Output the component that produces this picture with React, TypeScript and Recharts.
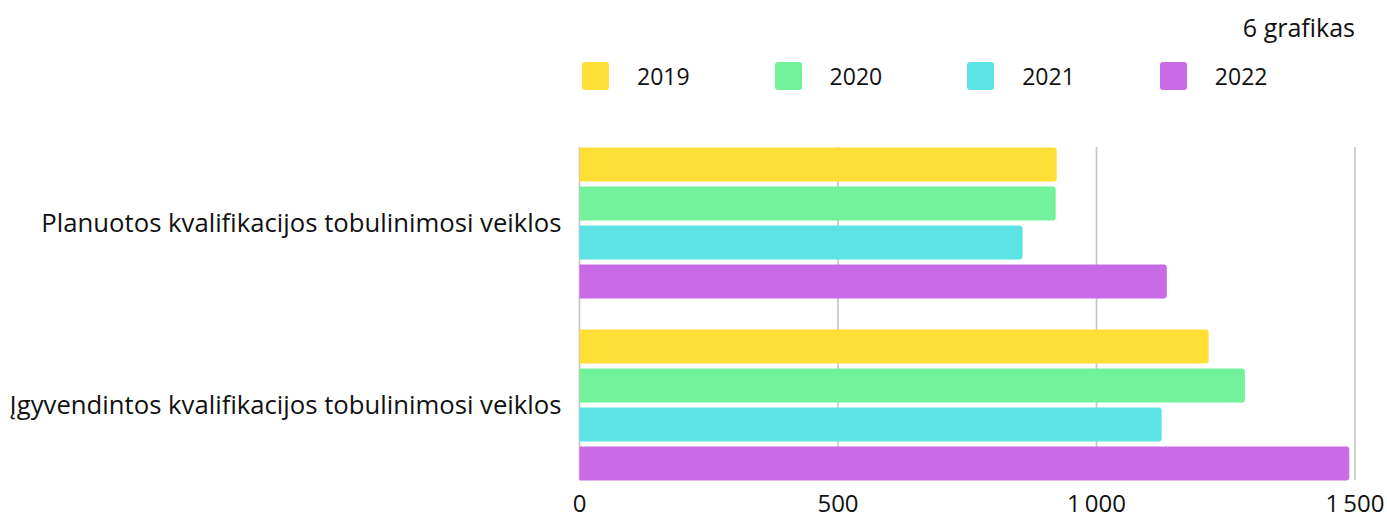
import React from "react";
import { BarChart, Bar, XAxis, YAxis, CartesianGrid } from "recharts";

const categories = [
  "Planuotos kvalifikacijos tobulinimosi veiklos",
  "Įgyvendintos kvalifikacijos tobulinimosi veiklos",
];
const years = ["2019", "2020", "2021", "2022"];
const values2019 = [923, 1217];
const values2020 = [921, 1287];
const values2021 = [857, 1126];
const values2022 = [1136, 1489];
const xTicks = [0, 500, 1000, 1500];
const colors = ["#FFDE35", "#72F29B", "#5DE2E5", "#C96BE6"];
const subtitle = "6 grafikas";

const series = [values2019, values2020, values2021, values2022];
const data = categories.map((c, i) => {
  const row: Record<string, string | number> = { name: c };
  years.forEach((y, k) => {
    row[y] = series[k][i];
  });
  return row;
});

const FONT = "'Open Sans', sans-serif";
const GAP = 15.5;

const GridLine = (props: any) => {
  const { x1, x2, y1, y2 } = props;
  return (
    <line
      x1={x1}
      x2={x2}
      y1={y1 + GAP}
      y2={y2 - GAP}
      stroke="#c4c4c4"
      strokeWidth={1.6}
    />
  );
};

const fmt = (v: number) =>
  v >= 1000 ? `${Math.floor(v / 1000)}\u2009${String(v % 1000).padStart(3, "0")}` : String(v);

export default function App() {
  return (
    <div style={{ position: "absolute", left: 0, top: 0, width: 1387, height: 514, background: "#fff" }}>
      <div
        style={{
          position: "absolute",
          right: 32,
          top: 12,
          fontFamily: FONT,
          fontSize: 25,
          color: "#111",
          lineHeight: "30px",
        }}
      >
        {subtitle}
      </div>
      <div
        style={{
          position: "absolute",
          left: 582,
          top: 62,
          display: "flex",
          alignItems: "center",
          fontFamily: FONT,
          fontSize: 23,
          color: "#111",
          height: 28,
        }}
      >
        {years.map((y, i) => (
          <div key={y} style={{ display: "flex", alignItems: "center", marginRight: 85 }}>
            <div
              style={{
                width: 27,
                height: 28,
                borderRadius: 3,
                background: colors[i],
                marginRight: 28,
              }}
            />
            <span>{y}</span>
          </div>
        ))}
      </div>
      <BarChart
        width={1387}
        height={514}
        data={data}
        layout="vertical"
        margin={{ top: 131.5, right: 32, bottom: 0, left: 0 }}
        barCategoryGap={GAP}
        barGap={5}
        style={{ position: "absolute", left: 0, top: 0 }}
      >
        <CartesianGrid horizontal={false} vertical={GridLine as any} />
        <XAxis
          type="number"
          domain={[0, 1500]}
          ticks={xTicks}
          tickFormatter={fmt}
          axisLine={false}
          tickLine={false}
          height={18.5}
          tickSize={0}
          tickMargin={-1}
          interval={0}
          tick={{ fontFamily: FONT, fontSize: 24, fill: "#111" }}
        />
        <YAxis
          type="category"
          dataKey="name"
          width={579.5}
          axisLine={false}
          tickLine={false}
          tickMargin={12}
          tick={{ fontFamily: FONT, fontSize: 25.7, fill: "#111" }}
        />
        {years.map((y, i) => (
          <Bar
            key={y}
            dataKey={y}
            fill={colors[i]}
            barSize={34}
            radius={[0, 3, 3, 0]}
            isAnimationActive={false}
          />
        ))}
      </BarChart>
    </div>
  );
}
